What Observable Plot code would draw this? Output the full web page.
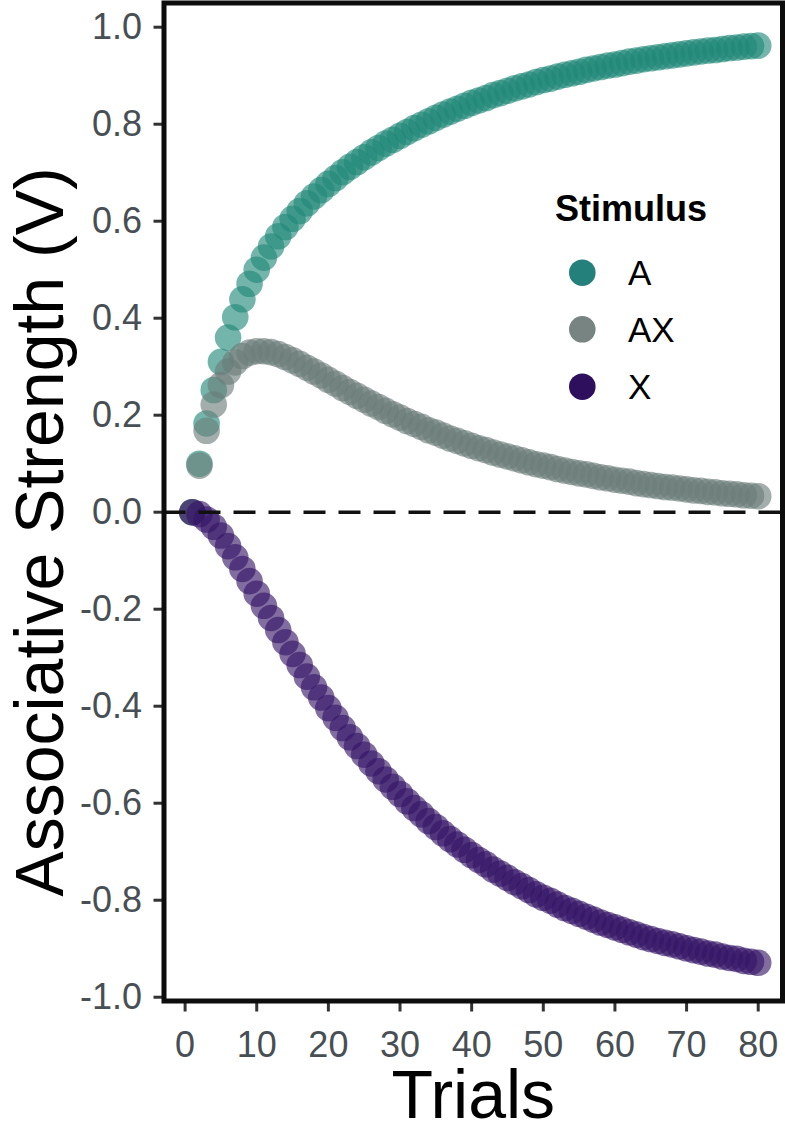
<!DOCTYPE html>
<html><head><meta charset="utf-8">
<script src="https://cdn.jsdelivr.net/npm/d3@7"></script>
<script src="https://cdn.jsdelivr.net/npm/@observablehq/plot@0.6"></script>
<style>
body{margin:0;background:#fff;}
#wrap{position:relative;width:785px;height:1136px;overflow:hidden;}
#wrap svg{display:block;}
#legend{position:absolute;left:0;top:0;}
</style></head><body><div id="wrap"></div>
<script>
const trials = [1,2,3,4,5,6,7,8,9,10,11,12,13,14,15,16,17,18,19,20,21,22,23,24,25,26,27,28,29,30,31,32,33,34,35,36,37,38,39,40,41,42,43,44,45,46,47,48,49,50,51,52,53,54,55,56,57,58,59,60,61,62,63,64,65,66,67,68,69,70,71,72,73,74,75,76,77,78,79,80];
const stimuli = ["A", "AX", "X"];
const valuesA = [
0, 0.100, 0.183, 0.252, 0.310, 0.360, 0.402, 0.439, 0.471, 0.500,
0.525, 0.548, 0.569, 0.588, 0.605, 0.621, 0.637, 0.651, 0.664, 0.677,
0.689, 0.701, 0.712, 0.722, 0.732, 0.742, 0.751, 0.760, 0.768, 0.776,
0.784, 0.792, 0.799, 0.806, 0.813, 0.820, 0.826, 0.832, 0.838, 0.844,
0.849, 0.854, 0.860, 0.864, 0.869, 0.874, 0.878, 0.882, 0.887, 0.891,
0.894, 0.898, 0.902, 0.905, 0.908, 0.912, 0.915, 0.918, 0.921, 0.923,
0.926, 0.929, 0.931, 0.934, 0.936, 0.938, 0.940, 0.942, 0.944, 0.946,
0.948, 0.950, 0.952, 0.953, 0.955, 0.957, 0.958, 0.960, 0.961, 0.962];
const valuesAX = [
0, 0.096, 0.168, 0.222, 0.262, 0.290, 0.309, 0.322, 0.329, 0.332,
0.332, 0.330, 0.326, 0.320, 0.313, 0.306, 0.298, 0.290, 0.282, 0.273,
0.265, 0.256, 0.248, 0.240, 0.232, 0.224, 0.217, 0.209, 0.202, 0.195,
0.188, 0.182, 0.176, 0.169, 0.164, 0.158, 0.152, 0.147, 0.142, 0.137,
0.132, 0.128, 0.123, 0.119, 0.115, 0.111, 0.107, 0.103, 0.099, 0.096,
0.093, 0.089, 0.086, 0.083, 0.080, 0.078, 0.075, 0.072, 0.070, 0.067,
0.065, 0.063, 0.060, 0.058, 0.056, 0.054, 0.052, 0.051, 0.049, 0.047,
0.045, 0.044, 0.042, 0.041, 0.039, 0.038, 0.037, 0.035, 0.034, 0.033];
const valuesX = [
0, -0.004, -0.015, -0.030, -0.048, -0.070, -0.093, -0.117, -0.142, -0.168,
-0.193, -0.218, -0.243, -0.268, -0.292, -0.315, -0.339, -0.361, -0.382, -0.404,
-0.424, -0.445, -0.464, -0.482, -0.500, -0.518, -0.534, -0.551, -0.566, -0.581,
-0.596, -0.610, -0.623, -0.637, -0.649, -0.662, -0.674, -0.685, -0.696, -0.707,
-0.717, -0.726, -0.737, -0.745, -0.754, -0.763, -0.771, -0.779, -0.788, -0.795,
-0.801, -0.809, -0.816, -0.822, -0.828, -0.834, -0.840, -0.846, -0.851, -0.856,
-0.861, -0.866, -0.871, -0.876, -0.880, -0.884, -0.888, -0.891, -0.895, -0.899,
-0.903, -0.906, -0.910, -0.912, -0.916, -0.919, -0.921, -0.925, -0.927, -0.929];
const xTicks = [0, 10, 20, 30, 40, 50, 60, 70, 80];
const yTicks = [-1.0, -0.8, -0.6, -0.4, -0.2, 0.0, 0.2, 0.4, 0.6, 0.8, 1.0];
const pointColors = ["#1e8878", "#6b7c79", "#341466"];
const legendColors = ["#23807a", "#778481", "#2e0f5e"];
const xTitle = "Trials";
const yTitle = "Associative Strength (V)";
const legendTitle = "Stimulus";

const seriesValues = {A: valuesA, AX: valuesAX, X: valuesX};
const rows = stimuli.flatMap(s => trials.map((t, i) => ({stim: s, trial: t, v: seriesValues[s][i]})));

const FONT = "'Liberation Sans', Arial, Helvetica, sans-serif";

const chart = Plot.plot({
  width: 785, height: 1136,
  marginLeft: 163.5, marginRight: 3, marginTop: 2.5, marginBottom: 135.5,
  style: {fontFamily: FONT, background: "#fff", overflow: "visible"},
  x: {domain: [-2.945, 83.39]},
  y: {domain: [-1.0078, 1.0499]},
  color: {domain: stimuli, range: pointColors},
  marks: [
    Plot.axisY({ticks: yTicks, tickFormat: d => d.toFixed(1), tickSize: 10, tickPadding: 12,
      fontSize: 36, stroke: "#333", strokeWidth: 3, fill: "#484f54", label: null}),
    Plot.axisX({ticks: xTicks, tickFormat: d => String(d), tickSize: 11, tickPadding: 19,
      fontSize: 36, stroke: "#333", strokeWidth: 3, fill: "#484f54", label: null}),
    Plot.dot(rows, {x: "trial", y: "v", fill: "stim", r: 13.3, fillOpacity: 0.62}),
    Plot.ruleY([0], {stroke: "#111", strokeWidth: 3.5, strokeDasharray: "22,13"}),
    Plot.frame({stroke: "#0d0d0d", strokeWidth: 5}),
    Plot.text([xTitle], {frameAnchor: "bottom", textAnchor: "middle", lineAnchor: "middle", dy: 95, fontSize: 68, fill: "#000", text: d => d}),
    Plot.text([yTitle], {frameAnchor: "left", textAnchor: "middle", lineAnchor: "middle", dx: -123, dy: 30, rotate: -90, fontSize: 68, fill: "#000", text: d => d})
  ]
});

const wrap = document.getElementById("wrap");
wrap.appendChild(chart);

// legend overlay (inside panel, top right)
const lg = d3.select(wrap).append("svg").attr("id", "legend")
  .attr("width", 785).attr("height", 1136)
  .style("font-family", FONT).style("pointer-events", "none");
lg.append("text").attr("x", 555).attr("y", 221).attr("font-size", 36).attr("font-weight", "bold")
  .attr("fill", "#000").text(legendTitle);
const keyY = [272.7, 329.3, 386.7];
stimuli.forEach((s, i) => {
  lg.append("circle").attr("cx", 582.3).attr("cy", keyY[i]).attr("r", 13.3).attr("fill", legendColors[i]);
  lg.append("text").attr("x", 628).attr("y", keyY[i] + 12.5).attr("font-size", 35).attr("fill", "#000").text(s);
});
</script>
</body></html>
